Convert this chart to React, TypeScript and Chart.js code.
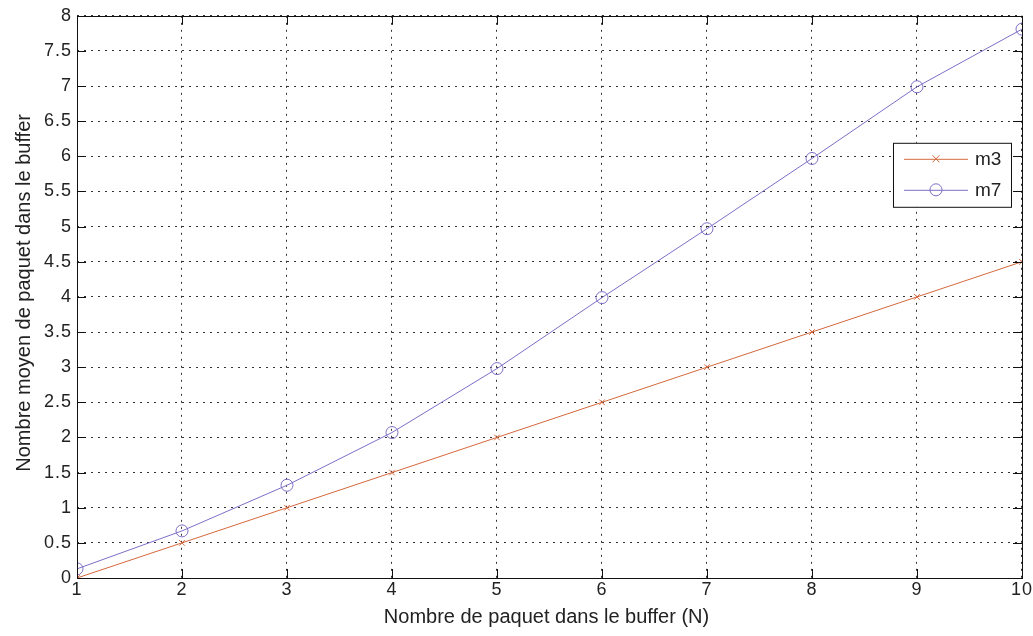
import React, { useEffect, useRef } from "react";
import { Chart, registerables } from "chart.js";

Chart.register(...registerables);

const xValues = [1, 2, 3, 4, 5, 6, 7, 8, 9, 10];
const m3Values = [0, 0.5, 1, 1.5, 2, 2.5, 3, 3.5, 4, 4.5];
const m7Values = [0.13, 0.67, 1.32, 2.07, 2.98, 3.99, 4.97, 5.97, 6.99, 7.81];
const seriesNames = ["m3", "m7"];
const xTitle = "Nombre de paquet dans le buffer (N)";
const yTitle = "Nombre moyen de paquet dans le buffer";

const COLOR_M3 = "#d4683e";
const COLOR_M7 = "#7e6ec6";
const FONT = "Liberation Sans, Arial, sans-serif";

const spacingPlugin = {
  id: "tickSpacing",
  beforeDraw(chart: any) {
    chart.ctx.letterSpacing = "1px";
  },
  beforeDatasetsDraw(chart: any) {
    chart.ctx.letterSpacing = "0px";
  },
};

const matlabPlugin = {
  id: "matlabBox",
  afterDraw(chart: any) {
    const { ctx, chartArea } = chart;
    const { left, right, top, bottom } = chartArea;
    const xs = chart.scales.x;
    const ys = chart.scales.y;
    ctx.save();
    ctx.letterSpacing = "0px";
    ctx.strokeStyle = "#111";
    ctx.lineWidth = 1;
    ctx.setLineDash([]);
    // box
    ctx.strokeRect(Math.round(left) + 0.5, Math.round(top) + 0.5, Math.round(right - left), Math.round(bottom - top));
    const tl = 9;
    ctx.beginPath();
    xs.ticks.forEach((t: any) => {
      const px = Math.round(xs.getPixelForValue(t.value)) + 0.5;
      ctx.moveTo(px, bottom);
      ctx.lineTo(px, bottom - tl);
      ctx.moveTo(px, top);
      ctx.lineTo(px, top + tl);
    });
    ys.ticks.forEach((t: any) => {
      const py = Math.round(ys.getPixelForValue(t.value)) + 0.5;
      ctx.moveTo(left, py);
      ctx.lineTo(left + tl, py);
      ctx.moveTo(right, py);
      ctx.lineTo(right - tl, py);
    });
    ctx.stroke();

    // axis titles
    ctx.fillStyle = "#222";
    ctx.font = `20px ${FONT}`;
    ctx.textAlign = "center";
    ctx.textBaseline = "alphabetic";
    ctx.fillText(xTitle, (left + right) / 2 - 3, bottom + 45);
    ctx.save();
    ctx.translate(30, (top + bottom) / 2 - 4);
    ctx.rotate(-Math.PI / 2);
    ctx.fillText(yTitle, 0, 0);
    ctx.restore();

    // legend
    const bx = right - 129;
    const by = top + 127;
    const bw = 118;
    const bh = 64;
    ctx.fillStyle = "#fff";
    ctx.fillRect(bx, by, bw, bh);
    ctx.strokeStyle = "#111";
    ctx.strokeRect(bx + 0.5, by + 0.5, bw, bh);
    const items = [
      { name: seriesNames[0], color: COLOR_M3, marker: "x", y: by + 16 },
      { name: seriesNames[1], color: COLOR_M7, marker: "o", y: by + 47 },
    ];
    items.forEach((it) => {
      ctx.strokeStyle = it.color;
      ctx.lineWidth = 1;
      ctx.beginPath();
      ctx.moveTo(bx + 11, it.y + 0.5);
      ctx.lineTo(bx + 75, it.y + 0.5);
      ctx.stroke();
      const mx = bx + 43;
      ctx.beginPath();
      if (it.marker === "x") {
        const r = 3.5;
        ctx.moveTo(mx - r, it.y - r);
        ctx.lineTo(mx + r, it.y + r);
        ctx.moveTo(mx + r, it.y - r);
        ctx.lineTo(mx - r, it.y + r);
      } else {
        ctx.arc(mx, it.y, 6, 0, Math.PI * 2);
      }
      ctx.stroke();
      ctx.fillStyle = "#222";
      ctx.font = `19px ${FONT}`;
      ctx.textBaseline = "middle";
      ctx.textAlign = "left";
      ctx.fillText(it.name, bx + 82, it.y + 1);
    });
    ctx.restore();
  },
};

export default function App() {
  const canvasRef = useRef<HTMLCanvasElement | null>(null);

  useEffect(() => {
    if (!canvasRef.current) return;
    const chart = new Chart(canvasRef.current, {
      type: "line",
      data: {
        datasets: [
          {
            label: seriesNames[0],
            data: xValues.map((x, i) => ({ x, y: m3Values[i] })),
            borderColor: COLOR_M3,
            backgroundColor: "transparent",
            borderWidth: 1,
            pointStyle: "crossRot",
            pointRadius: 4,
            pointBorderColor: COLOR_M3,
            pointBorderWidth: 1,
            tension: 0,
          },
          {
            label: seriesNames[1],
            data: xValues.map((x, i) => ({ x, y: m7Values[i] })),
            borderColor: COLOR_M7,
            backgroundColor: "transparent",
            borderWidth: 1,
            pointStyle: "circle",
            pointRadius: 6,
            pointBorderColor: COLOR_M7,
            pointBackgroundColor: "transparent",
            pointBorderWidth: 1,
            tension: 0,
          },
        ],
      },
      options: {
        animation: false,
        responsive: false,
        maintainAspectRatio: false,
        layout: { padding: { left: 0, right: 11, top: 15, bottom: 0 } },
        plugins: {
          legend: { display: false },
          tooltip: { enabled: false },
        },
        scales: {
          x: {
            type: "linear",
            min: 1,
            max: 10,
            ticks: {
              stepSize: 1,
              color: "#222",
              font: { family: FONT, size: 18 },
              padding: 1,
            },
            grid: { color: "#333", drawTicks: false, lineWidth: 1 },
            border: { display: false, dash: [2, 5] },
            afterFit(scale: any) {
              scale.height = 58;
            },
          },
          y: {
            type: "linear",
            min: 0,
            max: 8,
            ticks: {
              stepSize: 0.5,
              color: "#222",
              font: { family: FONT, size: 18 },
              padding: 5,
              callback: (v: any) => String(v),
            },
            grid: { color: "#333", drawTicks: false, lineWidth: 1 },
            border: { display: false, dash: [2, 5] },
            afterFit(scale: any) {
              scale.width = 77;
            },
          },
        },
      },
      plugins: [spacingPlugin, matlabPlugin],
    });
    return () => chart.destroy();
  }, []);

  return (
    <div style={{ position: "fixed", left: 0, top: 0, width: 1033, height: 636, background: "#fff" }}>
      <canvas ref={canvasRef} width={1033} height={636} style={{ display: "block" }} />
    </div>
  );
}
